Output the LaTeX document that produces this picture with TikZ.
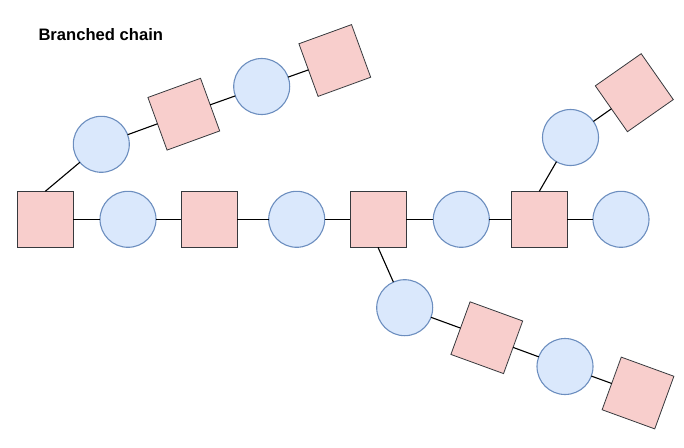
\documentclass[tikz,border=0pt]{standalone}
\usepackage{fontspec}
\setmainfont{Liberation Sans}
\definecolor{sqfill}{HTML}{F8CECC}
\definecolor{sqline}{HTML}{36393D}
\definecolor{cfill}{HTML}{DAE8FC}
\definecolor{cline}{HTML}{6C8EBF}
\begin{document}
\begin{tikzpicture}[x=1pt,y=-1pt,
  sq/.style={draw=sqline,fill=sqfill,line width=0.8pt,minimum size=56pt,inner sep=0pt,outer sep=0pt},
  circ/.style={circle,draw=cline,fill=cfill,line width=1.1pt,minimum size=56pt,inner sep=0pt,outer sep=0pt},
  link/.style={draw=black,line width=1.1pt}]
\useasboundingbox (0,0) rectangle (684,447);
% main chain
\node[sq] (s1) at (45.3,219.3) {};
\node[circ] (c1) at (128,219.3) {};
\node[sq] (s2) at (209.3,219.3) {};
\node[circ] (c2) at (296.7,219.3) {};
\node[sq] (s3) at (378,219.3) {};
\node[circ] (c3) at (461.3,219.3) {};
\node[sq] (s4) at (539.3,219.3) {};
\node[circ] (c4) at (621,219.3) {};
% upper branch
\node[circ] (ua) at (101.3,144.3) {};
\node[sq,rotate=20] (ub) at (183.8,114.2) {};
\node[circ] (uc) at (261.7,86.5) {};
\node[sq,rotate=20] (ud) at (334.8,60.5) {};
% right branch
\node[circ] (ra) at (570.5,137.5) {};
\node[sq,rotate=35] (rb) at (634.3,92.7) {};
% lower branch
\node[circ] (la) at (404.7,307.7) {};
\node[sq,rotate=-20] (lb) at (486.8,337.7) {};
\node[circ] (lc) at (565,366.5) {};
\node[sq,rotate=-20] (ld) at (638,393) {};
% connectors
\path[link] (s1) -- (c1) (c1) -- (s2) (s2) -- (c2) (c2) -- (s3) (s3) -- (c3) (c3) -- (s4) (s4) -- (c4);
\path[link] (s1.north) -- (ua) (ua) -- (ub) (ub) -- (uc) (uc) -- (ud);
\path[link] (s4.north) -- (ra) (ra) -- (rb);
\path[link] (s3.south) -- (la) (la) -- (lb) (lb) -- (lc) (lc) -- (ld);
\node[anchor=base west,inner sep=0pt,font=\bfseries\fontsize{16.6}{20}\selectfont] (title) at (38.3,40) {Branched chain};
\end{tikzpicture}
\end{document}
